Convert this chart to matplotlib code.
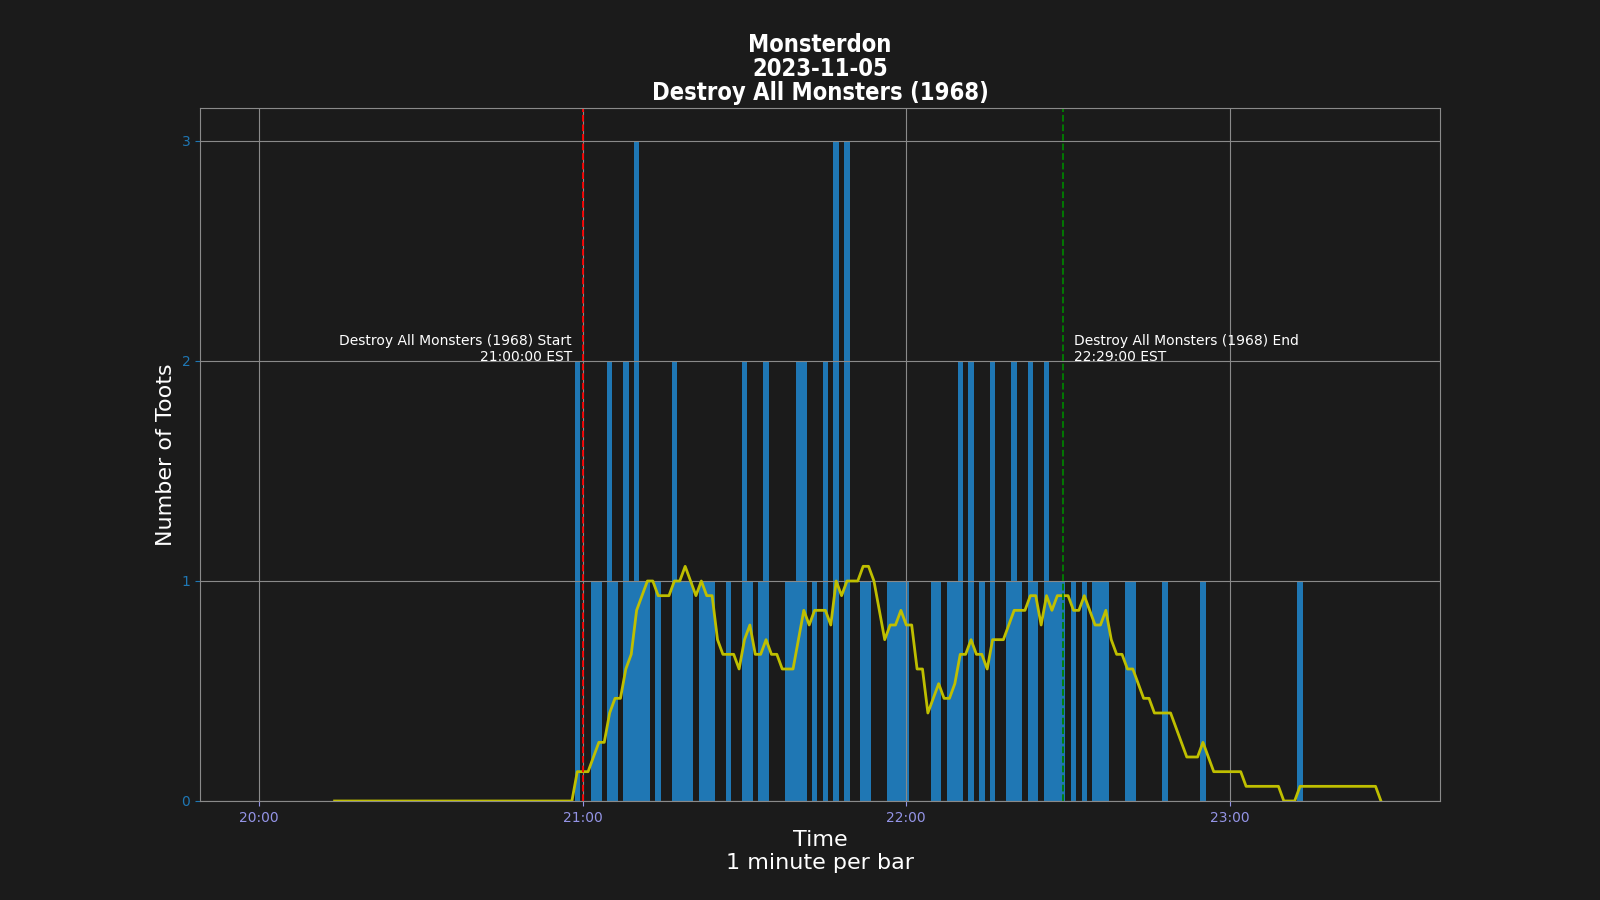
import matplotlib
matplotlib.use("Agg")
import matplotlib.pyplot as plt
import matplotlib.dates as mdates
from matplotlib import font_manager
import pandas as pd

# ---- data ----
series_start = "2023-11-05 20:00"
series_end = "2023-11-05 23:28"
toot_times = ["20:59", "21:02", "21:03", "21:05", "21:06", "21:08", "21:09", "21:10", "21:11", "21:12",
              "21:14", "21:17", "21:18", "21:19", "21:20", "21:22", "21:23", "21:24", "21:27", "21:30",
              "21:31", "21:33", "21:34", "21:38", "21:39", "21:40", "21:41", "21:43", "21:45", "21:47",
              "21:49", "21:52", "21:53", "21:57", "21:58", "21:59", "22:00", "22:05", "22:06", "22:08",
              "22:09", "22:10", "22:12", "22:14", "22:16", "22:19", "22:20", "22:21", "22:23", "22:24",
              "22:26", "22:27", "22:28", "22:29", "22:31", "22:33", "22:35", "22:36", "22:37", "22:41",
              "22:42", "22:48", "22:55", "23:13"]
toot_counts = [2, 1, 1, 2, 1, 2, 1, 3, 1, 1,
               1, 2, 1, 1, 1, 1, 1, 1, 1, 2,
               1, 1, 2, 1, 1, 2, 2, 1, 2, 3,
               3, 1, 1, 1, 1, 1, 1, 1, 1, 1,
               1, 2, 2, 1, 2, 1, 2, 1, 2, 1,
               2, 1, 1, 1, 1, 1, 1, 1, 1, 1,
               1, 1, 1, 1]
rolling_window = 15
title_lines = ["Monsterdon", "2023-11-05", "Destroy All Monsters (1968)"]
start_label = "Destroy All Monsters (1968) Start\n21:00:00 EST"
end_label = "Destroy All Monsters (1968) End\n22:29:00 EST"
start_time = "2023-11-05 21:00"
end_time = "2023-11-05 22:29"

# ---- build series ----
idx = pd.date_range(series_start, series_end, freq="1min")
counts = pd.Series(0, index=idx, dtype=float)
for t, c in zip(toot_times, toot_counts):
    counts[pd.Timestamp("2023-11-05 " + t)] = c
rolling = counts.rolling(rolling_window).mean()

# pick a condensed bold face for the title if one is installed
title_font = None
for f in font_manager.fontManager.ttflist:
    if f.name in ("Liberation Sans Narrow", "DejaVu Sans") and "ondensed" in f.fname or "Narrow" in f.fname:
        if "Bold" in f.fname and "Oblique" not in f.fname and "Italic" not in f.fname:
            title_font = f.fname
            break

bg = "#1b1b1b"
fig = plt.figure(figsize=(16, 9), dpi=100, facecolor=bg)
ax = fig.add_subplot(111)
ax.set_facecolor(bg)

ax.bar(counts.index, counts.values, width=1 / 1440, color="#1f77b4", align="center")
ax.plot(rolling.index, rolling.values, color="y", linewidth=2)

st = pd.Timestamp(start_time)
et = pd.Timestamp(end_time)
ax.axvline(st, color="#ff0000", linestyle="--", linewidth=1.3)
ax.axvline(et, color="green", linestyle="--", linewidth=1.3)
ax.text(st - pd.Timedelta(minutes=2), 1.985, start_label, color="white", fontsize=10,
        ha="right", va="bottom", multialignment="right")
ax.text(et + pd.Timedelta(minutes=2), 1.985, end_label, color="white", fontsize=10,
        ha="left", va="bottom", multialignment="left")

ax.xaxis.set_major_locator(mdates.HourLocator())
ax.xaxis.set_major_formatter(mdates.DateFormatter("%H:%M"))
ax.set_yticks([0, 1, 2, 3])

ax.grid(True, color="#8a8a8a", linewidth=0.8)
for s in ax.spines.values():
    s.set_color("#8a8a8a")
ax.tick_params(axis="y", colors="#1f77b4")
ax.tick_params(axis="x", colors="#9494e6")

ax.set_ylabel("Number of Toots", color="white", fontsize=16)
ax.set_xlabel("Time\n1 minute per bar", color="white", fontsize=16)
if title_font:
    fp = font_manager.FontProperties(fname=title_font, size=17)
else:
    fp = font_manager.FontProperties(family="DejaVu Sans", weight="bold", stretch="condensed", size=15)
ax.set_title("\n".join(title_lines), color="white", fontproperties=fp, linespacing=1.0)

fig.savefig("out.png", dpi=100, facecolor=bg)
